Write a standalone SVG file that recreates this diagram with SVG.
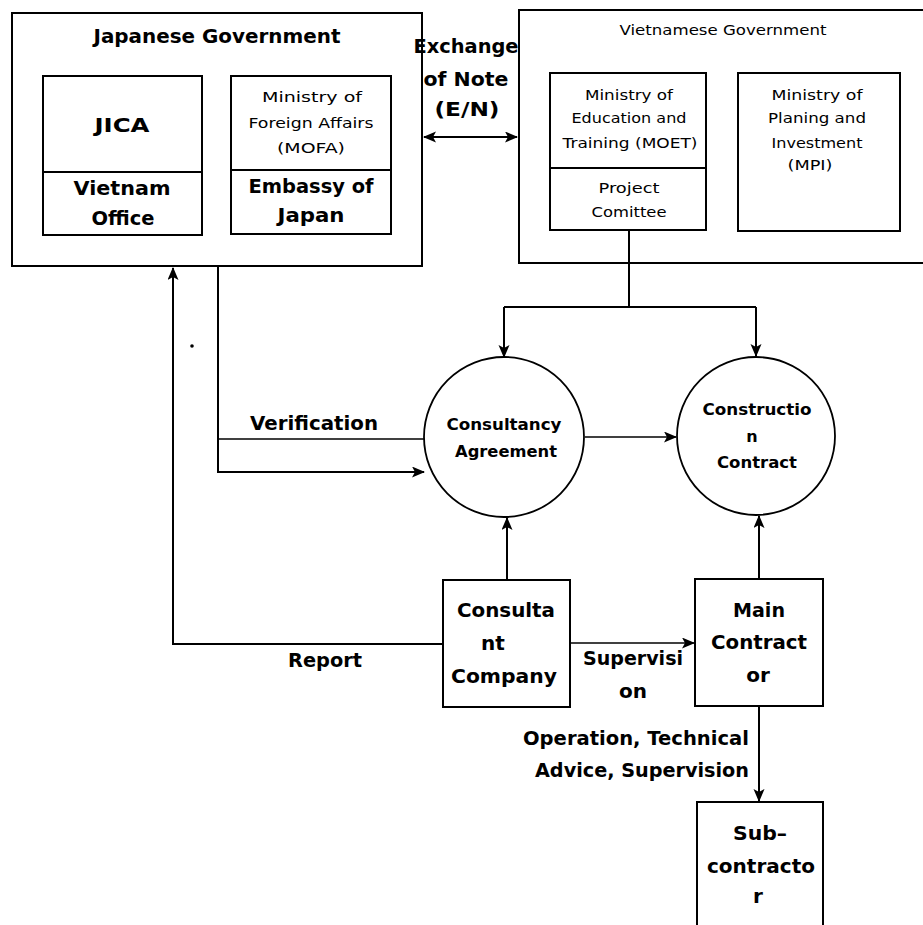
<svg xmlns="http://www.w3.org/2000/svg" width="923" height="925" viewBox="0 0 923 925">
<style>
  .box{fill:none;stroke:#000;stroke-width:2}
  .circ{fill:none;stroke:#000;stroke-width:1.8}
  .ln{fill:none;stroke:#000;stroke-width:2}
  .thin{fill:none;stroke:#000;stroke-width:1.3}
  text{font-family:"DejaVu Sans","Liberation Sans",sans-serif;fill:#000;text-anchor:middle}
  .b{font-weight:bold;font-size:20px}
  .m{font-weight:bold;font-size:16px}
  .s{font-size:14.5px}
</style>
<defs>
  <marker id="ah" markerUnits="userSpaceOnUse" markerWidth="14" markerHeight="12" refX="12" refY="5.5" orient="auto-start-reverse" viewBox="0 0 14 12">
    <path d="M0,0 L13,5.5 L0,11 L3,5.5 z" fill="#000"/>
  </marker>
</defs>
<rect width="923" height="925" fill="#fff"/>

<g id="japanese-government">
  <rect class="box" x="12" y="13" width="410" height="253"/>
  <text class="b" x="217" y="43" textLength="247" lengthAdjust="spacingAndGlyphs">Japanese Government</text>
</g>
<g id="jica">
  <rect class="box" x="43" y="76" width="159" height="159"/>
  <line class="box" x1="43" y1="172" x2="202" y2="172"/>
  <text class="b" x="122" y="132" textLength="55" lengthAdjust="spacingAndGlyphs">JICA</text>
  <text class="b" x="122" y="195" textLength="97" lengthAdjust="spacingAndGlyphs">Vietnam</text>
  <text class="b" x="123" y="225" textLength="63" lengthAdjust="spacingAndGlyphs">Office</text>
</g>
<g id="mofa">
  <rect class="box" x="231" y="76" width="160" height="158"/>
  <line class="box" x1="231" y1="170" x2="391" y2="170"/>
  <text class="s" x="312" y="102" textLength="100" lengthAdjust="spacingAndGlyphs">Ministry of</text>
  <text class="s" x="311" y="128" textLength="125" lengthAdjust="spacingAndGlyphs">Foreign Affairs</text>
  <text class="s" x="311" y="153" textLength="68" lengthAdjust="spacingAndGlyphs">(MOFA)</text>
  <text class="b" x="311" y="193" textLength="125" lengthAdjust="spacingAndGlyphs">Embassy of</text>
  <text class="b" x="311" y="222" textLength="67" lengthAdjust="spacingAndGlyphs">Japan</text>
</g>
<g id="exchange-of-note">
  <text class="b" x="466" y="53" textLength="105" lengthAdjust="spacingAndGlyphs">Exchange</text>
  <text class="b" x="466" y="86" textLength="85" lengthAdjust="spacingAndGlyphs">of Note</text>
  <text class="b" x="467" y="116" textLength="65" lengthAdjust="spacingAndGlyphs">(E/N)</text>
</g>
<g id="vietnamese-government">
  <rect class="box" x="519" y="10" width="420" height="253"/>
  <text class="s" x="723" y="35" textLength="207" lengthAdjust="spacingAndGlyphs">Vietnamese Government</text>
</g>
<g id="moet">
  <rect class="box" x="550" y="73" width="156" height="157"/>
  <line class="box" x1="550" y1="168" x2="706" y2="168"/>
  <text class="s" x="629" y="100" textLength="88" lengthAdjust="spacingAndGlyphs">Ministry of</text>
  <text class="s" x="629" y="123" textLength="115" lengthAdjust="spacingAndGlyphs">Education and</text>
  <text class="s" x="630" y="148" textLength="135" lengthAdjust="spacingAndGlyphs">Training (MOET)</text>
  <text class="s" x="629" y="193" textLength="61" lengthAdjust="spacingAndGlyphs">Project</text>
  <text class="s" x="629" y="217" textLength="75" lengthAdjust="spacingAndGlyphs">Comittee</text>
</g>
<g id="mpi">
  <rect class="box" x="738" y="73" width="162" height="158"/>
  <text class="s" x="817" y="100" textLength="91" lengthAdjust="spacingAndGlyphs">Ministry of</text>
  <text class="s" x="817" y="123" textLength="98" lengthAdjust="spacingAndGlyphs">Planing and</text>
  <text class="s" x="817" y="148" textLength="91" lengthAdjust="spacingAndGlyphs">Investment</text>
  <text class="s" x="810" y="170" textLength="45" lengthAdjust="spacingAndGlyphs">(MPI)</text>
</g>
<g id="consultancy-agreement">
  <circle class="circ" cx="504" cy="437" r="80"/>
  <text class="m" x="504" y="430" textLength="115" lengthAdjust="spacingAndGlyphs">Consultancy</text>
  <text class="m" x="506" y="457" textLength="102" lengthAdjust="spacingAndGlyphs">Agreement</text>
</g>
<g id="construction-contract">
  <circle class="circ" cx="756" cy="436" r="79"/>
  <text class="m" x="757" y="415" textLength="109" lengthAdjust="spacingAndGlyphs">Constructio</text>
  <text class="m" x="752" y="442">n</text>
  <text class="m" x="757" y="468" textLength="80" lengthAdjust="spacingAndGlyphs">Contract</text>
</g>
<g id="consultant-company">
  <rect class="box" x="443" y="580" width="127" height="127"/>
  <text class="b" x="506" y="617" textLength="98" lengthAdjust="spacingAndGlyphs">Consulta</text>
  <text class="b" x="493" y="650">nt</text>
  <text class="b" x="504" y="683" textLength="106" lengthAdjust="spacingAndGlyphs">Company</text>
</g>
<g id="main-contractor">
  <rect class="box" x="695" y="579" width="128" height="127"/>
  <text class="b" x="759" y="617" textLength="52" lengthAdjust="spacingAndGlyphs">Main</text>
  <text class="b" x="759" y="649" textLength="96" lengthAdjust="spacingAndGlyphs">Contract</text>
  <text class="b" x="758" y="682">or</text>
</g>
<g id="subcontractor">
  <rect class="box" x="697" y="802" width="126" height="200"/>
  <text class="b" x="760" y="840" textLength="54" lengthAdjust="spacingAndGlyphs">Sub–</text>
  <text class="b" x="761" y="873" textLength="108" lengthAdjust="spacingAndGlyphs">contracto</text>
  <text class="b" x="758" y="903">r</text>
</g>

<g id="connectors">
  <line class="ln" x1="424" y1="137" x2="517" y2="137" marker-start="url(#ah)" marker-end="url(#ah)"/>
  <path class="ln" d="M629,231 V307"/>
  <path class="ln" d="M504,307 H756"/>
  <path class="ln" d="M504,307 V357" marker-end="url(#ah)"/>
  <path class="ln" d="M756,307 V356" marker-end="url(#ah)"/>
  <path class="ln" d="M218,266 V472 H424" marker-end="url(#ah)"/>
  <path class="thin" d="M218,439 H424"/>
  <path class="thin" d="M585,437 H676" marker-end="url(#ah)"/>
  <path class="ln" d="M443,644 H173 V268" marker-end="url(#ah)"/>
  <path class="ln" d="M507,580 V518" marker-end="url(#ah)"/>
  <path class="thin" d="M570,643 H694" marker-end="url(#ah)"/>
  <path class="ln" d="M759,579 V516" marker-end="url(#ah)"/>
  <path class="ln" d="M759,706 V801" marker-end="url(#ah)"/>
  <circle cx="192" cy="346" r="1.8" fill="#000"/>
</g>

<g id="labels">
  <text class="b" x="314" y="430" textLength="128" lengthAdjust="spacingAndGlyphs">Verification</text>
  <text class="b" x="325" y="667" textLength="74" lengthAdjust="spacingAndGlyphs">Report</text>
  <text class="b" x="633" y="665" textLength="100" lengthAdjust="spacingAndGlyphs">Supervisi</text>
  <text class="b" x="633" y="698">on</text>
  <text class="b" x="636" y="745" textLength="226" lengthAdjust="spacingAndGlyphs">Operation, Technical</text>
  <text class="b" x="642" y="777" textLength="214" lengthAdjust="spacingAndGlyphs">Advice, Supervision</text>
</g>
</svg>
